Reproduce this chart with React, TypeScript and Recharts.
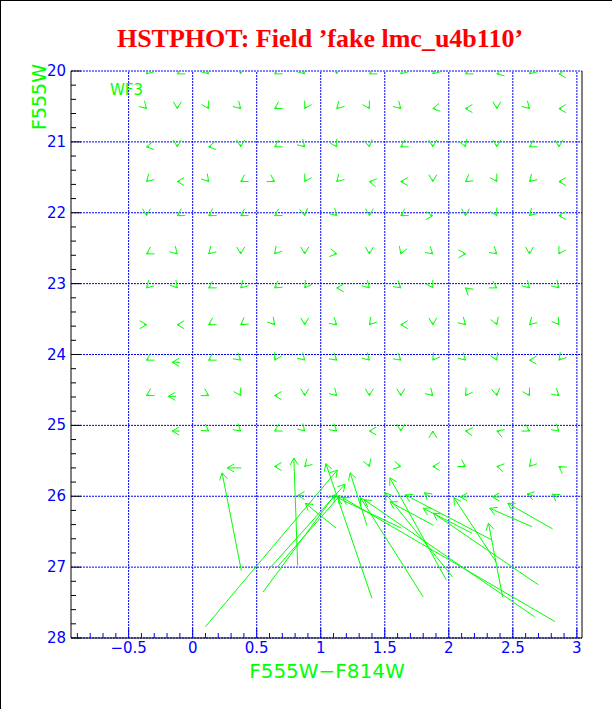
import React from 'react';
import { ComposedChart, XAxis, YAxis, Scatter, ReferenceLine } from 'recharts';

const GREEN = '#00ff00';
const BLUE = '#0000ff';

// input grid of the artificial stars (colour, magnitude)
const gridColors = [-0.36, -0.12, 0.125, 0.375, 0.64, 0.875, 1.125, 1.38, 1.625, 1.875, 2.13, 2.375, 2.63, 2.86];
const gridMags = [20.04, 20.53, 21.07, 21.56, 22.04, 22.58, 23.06, 23.58, 24.08, 24.58, 25.08, 25.58];
// direction each small arrow points, degrees on screen (0 = redder, 90 = fainter)
const smallDirs = [
  [135, 150, 45, 90, 150, 45, 90, 150, 135, 135, 150, 165, 135, 180],
  [45, 90, 60, 45, 150, 120, 135, 60, 45, 170, 180, 90, 45, 180],
  [170, 90, 170, 90, 150, 45, 60, 80, 150, 90, 70, 90, 150, 90],
  [135, 180, 50, 150, 30, 120, 135, 190, 180, 90, 145, 60, 135, 180],
  [90, 150, 150, 150, 150, 80, 45, 90, 150, 0, 90, 60, 135, 180],
  [150, 45, 135, 90, 130, 90, 10, 90, 110, 40, 0, 40, 90, 120],
  [135, 50, 150, 135, 145, 125, 180, 45, 40, 60, 220, 30, 45, 45],
  [0, 180, 150, 145, 50, 90, 40, 130, 180, 90, 45, 70, 135, 55],
  [150, null, 150, 40, 120, 45, 40, 45, 40, 125, 45, 65, 180, 130],
  [150, null, 30, 60, 180, 90, 45, 90, 90, 45, 125, 80, 60, 40],
  [null, null, 35, 40, 150, 45, 40, 180, 90, 270, 185, 200, 30, 40],
  [null, null, null, null, 180, 135, null, 70, 10, 180, 30, 190, 130, 215],
];

// arrows with a visible shaft: tail -> head
const tailColor = [-0.10, -0.13, -0.10, 0.38, 0.87, 1.85, 2.15, 2.40, 2.66, 2.85,
  0.38, 0.82, 1.12, 0.10, 0.55, 0.59, 0.66, 1.40, 1.36, 1.63, 1.80, 1.98, 2.03, 2.83, 2.67,
  1.88, 2.18, 2.34, 2.70, 2.37, 2.42, 2.65, 2.81];
const tailMag = [24.11, 24.59, 25.08, 25.60, 25.99, 26.01, 26.01, 26.01, 25.99, 26.02,
  27.05, 26.98, 26.45, 27.84, 27.35, 27.04, 27.00, 27.44, 26.41, 26.45, 27.42, 27.18, 27.14, 27.77, 27.70,
  26.41, 26.52, 26.62, 27.25, 26.93, 27.42, 26.43, 26.46];
const headColor = [-0.16, -0.19, -0.16, 0.27, 0.82, 1.81, 2.09, 2.34, 2.61, 2.81,
  0.23, 0.79, 0.88, 1.13, 1.11, 1.19, 1.15, 1.04, 1.23, 1.13, 1.31, 1.54, 1.50, 1.17, 1.34,
  1.54, 1.80, 1.66, 1.88, 2.04, 2.31, 2.32, 2.46];
const headMag = [24.11, 24.59, 25.08, 25.60, 25.99, 25.95, 26.01, 26.01, 25.97, 25.97,
  25.67, 25.46, 26.10, 25.63, 25.98, 25.83, 25.99, 25.54, 25.67, 26.02, 26.02, 25.74, 25.95, 26.02, 26.05,
  26.08, 26.17, 25.98, 26.24, 26.02, 26.38, 26.17, 26.10];

const xMajor = [-0.5, 0, 0.5, 1, 1.5, 2, 2.5, 3];
const xTicks = [-0.9, -0.8, -0.7, -0.6, -0.5, -0.4, -0.3, -0.2, -0.1, 0, 0.1, 0.2, 0.3, 0.4, 0.5, 0.6, 0.7, 0.8, 0.9, 1,
  1.1, 1.2, 1.3, 1.4, 1.5, 1.6, 1.7, 1.8, 1.9, 2, 2.1, 2.2, 2.3, 2.4, 2.5, 2.6, 2.7, 2.8, 2.9, 3];
const yMajor = [20, 21, 22, 23, 24, 25, 26, 27, 28];
const yTicks = [20, 20.2, 20.4, 20.6, 20.8, 21, 21.2, 21.4, 21.6, 21.8, 22, 22.2, 22.4, 22.6, 22.8, 23, 23.2, 23.4, 23.6, 23.8,
  24, 24.2, 24.4, 24.6, 24.8, 25, 25.2, 25.4, 25.6, 25.8, 26, 26.2, 26.4, 26.6, 26.8, 27, 27.2, 27.4, 27.6, 27.8, 28];

const smallData = gridMags.flatMap((m, r) =>
  gridColors.map((c, i) => ({ c, m, dir: smallDirs[r][i] })).filter((d) => d.dir !== null)
);

function arrowPath(x1: number, y1: number, x2: number, y2: number) {
  const a = Math.atan2(y2 - y1, x2 - x1);
  const h = 8;
  const s = Math.PI / 6;
  const ax = x2 - h * Math.cos(a - s), ay = y2 - h * Math.sin(a - s);
  const bx = x2 - h * Math.cos(a + s), by = y2 - h * Math.sin(a + s);
  return `M${x1},${y1}L${x2},${y2}M${ax},${ay}L${x2},${y2}L${bx},${by}`;
}

const SmallArrow = (p: any) => {
  const { cx, cy, payload } = p;
  const a = (payload.dir * Math.PI) / 180;
  const tx = cx - 2.5 * Math.cos(a);
  const ty = cy - 2.5 * Math.sin(a);
  return <path d={arrowPath(tx, ty, cx, cy)} stroke={GREEN} fill="none" strokeWidth={1} />;
};

const LongArrow = (p: any) => (
  <path d={arrowPath(p.x1, p.y1, p.x2, p.y2)} stroke={GREEN} fill="none" strokeWidth={1} />
);

const fmt = (v: number) => (v < 0 ? `−${Math.abs(v)}` : `${v}`);

const XTick = (p: any) => {
  const { x, y, payload } = p;
  const major = xMajor.includes(payload.value);
  return (
    <g>
      <line x1={x} y1={y} x2={x} y2={y - (major ? 10 : 5)} stroke={BLUE} />
      {major && (
        <text x={x} y={y + 15} textAnchor="middle" fill={BLUE} fontSize={15} fontFamily="DejaVu Sans">
          {fmt(payload.value)}
        </text>
      )}
    </g>
  );
};

const YTick = (p: any) => {
  const { x, y, payload } = p;
  const major = yMajor.includes(payload.value);
  return (
    <g>
      <line x1={x} y1={y} x2={x + (major ? 10 : 5)} y2={y} stroke="#000" />
      {major && (
        <text x={x - 5} y={y + 5} textAnchor="end" fill={BLUE} fontSize={15} fontFamily="DejaVu Sans">
          {payload.value}
        </text>
      )}
    </g>
  );
};

export default function App() {
  return (
    <div style={{ position: 'absolute', left: 0, top: 0, width: 612, height: 709, background: '#fff' }}>
      <div style={{ position: 'absolute', left: 0, top: 0, width: 611, height: 708, borderLeft: '1px solid #000', borderTop: '1px solid #000' }} />
      <ComposedChart width={612} height={709} margin={{ top: 71, right: 30, bottom: 0, left: 0 }}>
        {xMajor.map((v) => (
          <ReferenceLine key={`gx${v}`} x={v} stroke={BLUE} strokeDasharray="2 1" />
        ))}
        {yMajor.map((v) => (
          <ReferenceLine key={`gy${v}`} y={v} stroke={BLUE} strokeDasharray="2 1" />
        ))}
        <XAxis
          type="number"
          dataKey="c"
          domain={[-0.95, 3.04]}
          allowDataOverflow
          ticks={xTicks}
          interval={0}
          height={71}
          tickSize={0}
          tickMargin={0}
          tickLine={false}
          tick={XTick}
          axisLine={{ stroke: '#000' }}
        />
        <YAxis
          type="number"
          dataKey="m"
          domain={[20, 28]}
          reversed
          allowDataOverflow
          ticks={yTicks}
          interval={0}
          width={71}
          tickSize={0}
          tickMargin={0}
          tickLine={false}
          tick={YTick}
          axisLine={{ stroke: '#000' }}
        />
        <ReferenceLine x={3.04} stroke="#000" />
        <Scatter data={smallData} shape={SmallArrow} isAnimationActive={false} />
        {tailColor.map((tc, i) => (
          <ReferenceLine
            key={i}
            segment={[
              { x: tc, y: tailMag[i] },
              { x: headColor[i], y: headMag[i] },
            ]}
            shape={LongArrow}
          />
        ))}
      </ComposedChart>
      <svg width={612} height={709} style={{ position: 'absolute', left: 0, top: 0, pointerEvents: 'none' }}>
        <text x={320} y={47} textAnchor="middle" fontFamily="Liberation Serif" fontWeight="bold" fontSize={26} fill="#ff0000">
          HSTPHOT: Field ’fake lmc_u4b110’
        </text>
        <text x={110} y={95} fontFamily="DejaVu Sans" fontSize={15} fill={GREEN}>WF3</text>
        <text transform="translate(46,97) rotate(-90)" textAnchor="middle" fontFamily="DejaVu Sans" fontSize={19} fill={GREEN}>F555W</text>
        <text x={327} y={678} textAnchor="middle" fontFamily="DejaVu Sans" fontSize={20} fill={GREEN}>F555W−F814W</text>
      </svg>
    </div>
  );
}
